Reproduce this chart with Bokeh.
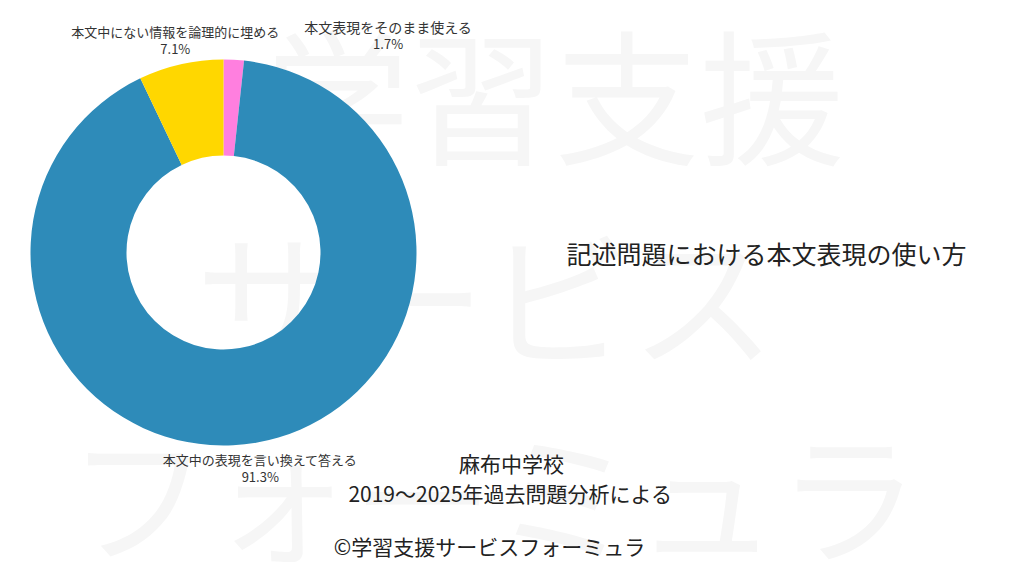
import math
from bokeh.plotting import figure
from bokeh.models import Range1d
from bokeh.core.properties import value
from bokeh.embed import file_html
from bokeh.resources import INLINE

# data, clockwise from 12 o'clock
categories = ["本文表現をそのまま使える", "本文中の表現を言い換えて答える", "本文中にない情報を論理的に埋める"]
shares = [1.7, 91.3, 7.1]
colors = ["#FF7FDF", "#2E8BB9", "#FFD700"]

title_text = "記述問題における本文表現の使い方"
school_text = "麻布中学校"
source_text = "2019～2025年過去問題分析による"
credit_text = "©学習支援サービスフォーミュラ"
watermark_rows = ["学習支援", "サービス", "フォーミュラ"]

FONT = "Noto Sans CJK JP"
W, H = 1024, 576


def py(y):
    # page pixel y -> data y
    return H - y


p = figure(width=W, height=H, output_backend="svg", toolbar_location=None,
           x_range=Range1d(0, W), y_range=Range1d(0, H), min_border=0)
p.axis.visible = False
p.grid.visible = False
p.outline_line_color = None
p.background_fill_color = "white"
p.border_fill_color = "white"

# faint watermark behind everything
wm_x = [554, 485, 493]
wm_y = [py(90), py(292), py(490)]
p.text(x=wm_x, y=wm_y, text=watermark_rows, text_align="center", text_baseline="middle",
       text_font=value(FONT), text_font_size=["145px", "145px", "142px"], text_color="#f6f6f6")

# donut
cx, cy = 223, py(252)
r_out, r_in = 193, 97
total = sum(shares)
starts, ends, mids = [], [], []
acc = 0.0
for s in shares:
    a0 = math.pi / 2 - acc / total * 2 * math.pi
    acc += s
    a1 = math.pi / 2 - acc / total * 2 * math.pi
    starts.append(a0)
    ends.append(a1)
    mids.append((a0 + a1) / 2)

p.annular_wedge(x=cx, y=cy, inner_radius=r_in, outer_radius=r_out,
                start_angle=starts, end_angle=ends, direction="clock",
                fill_color=colors, line_color=None)

# slice labels
r_lab = 218
shift_x = [153, 0, 0]
lx = [cx + r_lab * math.cos(a) + dx for a, dx in zip(mids, shift_x)]
ly = [cy + r_lab * math.sin(a) for a in mids]
pct = ["%.1f%%" % s for s in shares]
p.text(x=lx, y=[v + 8 for v in ly], text=categories, text_align="center", text_baseline="middle",
       text_font=value(FONT), text_font_size=["14px", "13px", "13px"], text_color="#333333")
p.text(x=lx, y=[v - 9 for v in ly], text=pct, text_align="center", text_baseline="middle",
       text_font=value(FONT), text_font_size="13px", text_color="#333333")

# title on the right
p.text(x=[766], y=[py(252)], text=[title_text], text_align="center", text_baseline="middle",
       text_font=value(FONT), text_font_size="25px", text_color="#222222")

# notes below
p.text(x=[511, 510, 489], y=[py(462), py(492), py(545)],
       text=[school_text, source_text, credit_text], text_align="center", text_baseline="middle",
       text_font=value(FONT), text_font_size="21px", text_color="#222222")

open("out.html", "w").write(file_html(p, INLINE))
